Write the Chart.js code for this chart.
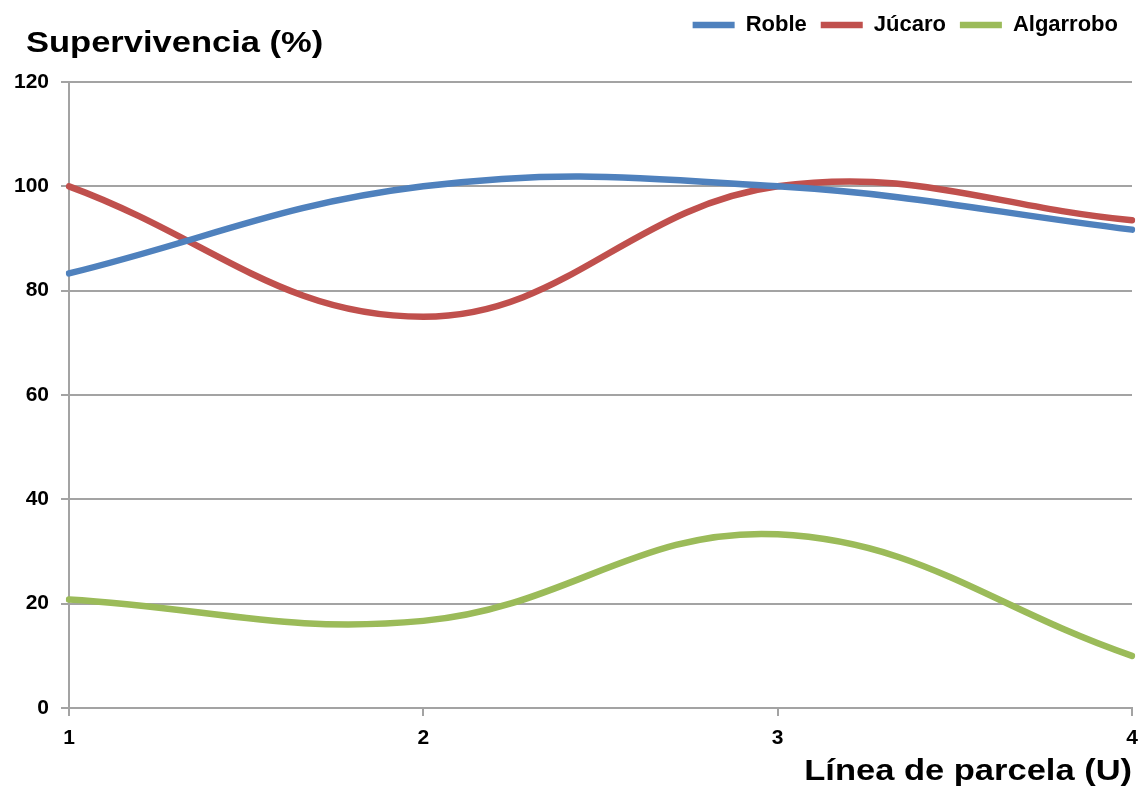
<!DOCTYPE html>
<html>
<head>
<meta charset="utf-8">
<script src="https://cdn.jsdelivr.net/npm/chart.js@4"></script>
<style>
  body { margin: 0; background: #fff; }
  #wrap { position: relative; width: 1140px; height: 789px; }
  .ttl { position: absolute; font-family: "Liberation Sans", Arial, sans-serif; font-weight: bold;
         font-size: 30px; line-height: 30px; color: #000; white-space: nowrap; }
  #ytitle { left: 26px; top: 27px; transform: scaleX(1.15); transform-origin: left center; }
  #xtitle { right: 8px; top: 755px; transform: scaleX(1.15); transform-origin: right center; }
</style>
</head>
<body>
<div id="wrap">
  <canvas id="chart" width="1140" height="789"></canvas>
  <div class="ttl" id="ytitle">Supervivencia (%)</div>
  <div class="ttl" id="xtitle">Línea de parcela (U)</div>
</div>
<script>
/* Supervivencia por línea de parcela — curvas suavizadas */
var lineas = ['1', '2', '3', '4'];
var roble = [83.3, 100, 100, 91.7];
var jucaro = [100, 75, 100, 93.5];
var algarrobo = [20.8, 16.7, 33.3, 10];
var yTicks = [0, 20, 40, 60, 80, 100, 120];

var grey = '#a3a3a3';
var tickFont = { family: 'Liberation Sans', size: 21, weight: 'bold' };

function serie(label, data, color) {
    return {
        label: label, data: data, borderColor: color, backgroundColor: color,
        borderWidth: 6.5, borderCapStyle: 'round', pointRadius: 0, tension: 0.4, fill: false
    };
}

// leave room under the legend for the y title
var legendGap = {
    id: 'legendGap',
    afterInit: function(chart) {
        var lg = chart.legend;
        if (!lg) return;
        var fit = lg.fit;
        lg.fit = function() { fit.call(this); this.height += 36; };
    }
};

new Chart(document.getElementById('chart').getContext('2d'), {
    type: 'line',
    data: {
        labels: lineas,
        datasets: [
            serie('Roble', roble, '#4F81BD'),
            serie('Júcaro', jucaro, '#C0504D'),
            serie('Algarrobo', algarrobo, '#9BBB59')
        ]
    },
    plugins: [legendGap],
    options: {
        responsive: false, animation: false,
        layout: { padding: { top: 0, right: 8, bottom: 0, left: 0 } },
        plugins: {
            tooltip: { enabled: false },
            legend: {
                position: 'top', align: 'end',
                labels: {
                    usePointStyle: true, pointStyle: 'line', pointStyleWidth: 42,
                    color: '#000', padding: 14,
                    font: { family: 'Liberation Sans', size: 22, weight: 'bold' }
                }
            }
        },
        scales: {
            x: {
                offset: false,
                grid: { drawOnChartArea: false, color: grey, lineWidth: 2, tickLength: 8 },
                border: { color: grey, width: 2 },
                ticks: { color: '#000', font: tickFont, padding: 10, maxRotation: 0 },
                afterFit: function(s) { s.height = 81; s.paddingRight = 0; s.paddingLeft = 0; }
            },
            y: {
                min: 0, max: 120,
                grid: { color: grey, lineWidth: 2, tickLength: 8 },
                border: { color: grey, width: 2 },
                ticks: { color: '#000', font: tickFont, padding: 12, stepSize: 20 },
                afterBuildTicks: function(s) { s.ticks = yTicks.map(function(v) { return { value: v }; }); },
                afterFit: function(s) { s.width = 69; s.paddingTop = 0; s.paddingBottom = 0; }
            }
        }
    }
});
</script>
</body>
</html>
